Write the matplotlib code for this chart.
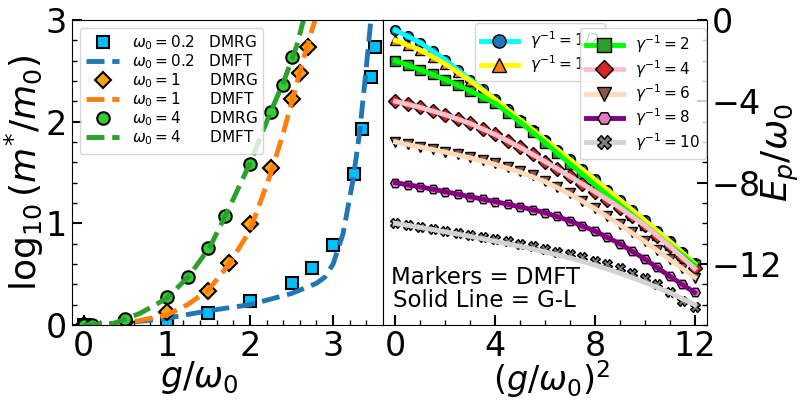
import numpy as np
import matplotlib.pyplot as plt
from matplotlib.lines import Line2D

# ---- left panel data: log10(m*/m0) vs g/w0 ----
# DMRG markers
w02_dmrg_x = [0, 0.5, 1.0, 1.5, 2.0, 2.5, 2.75, 3.0, 3.25, 3.35, 3.45, 3.5]
w02_dmrg_y = [0, 0.01, 0.05, 0.115, 0.236, 0.41, 0.557, 0.787, 1.485, 1.925, 2.44, 2.73]
w1_dmrg_x = [0, 0.5, 1.0, 1.5, 1.75, 2.0, 2.25, 2.5, 2.6, 2.7]
w1_dmrg_y = [0, 0.03, 0.125, 0.334, 0.607, 0.993, 1.548, 2.226, 2.482, 2.738]
w4_dmrg_x = [0, 0.1, 0.5, 1.0, 1.25, 1.5, 1.7, 2.0, 2.25, 2.4, 2.5]
w4_dmrg_y = [0, 0, 0.056, 0.279, 0.475, 0.754, 1.072, 1.584, 2.098, 2.36, 2.64]

# DMFT curves
w02_dmft_x = [0, 0.5, 1.0, 1.5, 2.0, 2.5, 2.8, 2.9, 3.0, 3.12, 3.24, 3.32, 3.4, 3.46]
w02_dmft_y = [0, 0.02, 0.066, 0.14, 0.2, 0.31, 0.41, 0.47, 0.6, 0.9, 1.43, 1.9, 2.54, 3.05]
w1_dmft_x = [0, 0.5, 1.0, 1.25, 1.5, 1.75, 2.0, 2.25, 2.4, 2.52, 2.64, 2.8]
w1_dmft_y = [0, 0.016, 0.098, 0.2, 0.344, 0.6, 0.93, 1.49, 1.885, 2.246, 2.607, 3.05]
w4_dmft_x = [0, 0.36, 0.68, 1.0, 1.26, 1.52, 1.72, 2.0, 2.24, 2.4, 2.56, 2.66]
w4_dmft_y = [0, 0.016, 0.115, 0.262, 0.475, 0.77, 1.1, 1.59, 2.08, 2.38, 2.74, 3.05]

# ---- right panel data: Ep/w0 vs (g/w0)^2 ----
gsq_dmft = [0, 0.5, 1, 1.5, 2, 2.5, 3, 3.5, 4, 4.5, 5, 5.5, 6, 6.5, 7, 7.5, 8,
            8.5, 9, 9.5, 10, 10.5, 11, 11.5, 12]
gsq_gl = [0, 1, 2, 3, 4, 5, 6, 7, 8, 9, 10, 11, 12]

inv_gamma = ['1/2', '1', '2', '4', '6', '8', '10']

dmft = [
    [-0.5, -0.78, -1.12, -1.52, -1.96, -2.44, -2.93, -3.41, -3.9, -4.4, -4.9, -5.39, -5.88,
     -6.37, -6.86, -7.35, -7.84, -8.34, -8.84, -9.34, -9.85, -10.36, -10.88, -11.42, -11.97],
    [-1.0, -1.21, -1.48, -1.8, -2.16, -2.56, -2.99, -3.43, -3.91, -4.41, -4.91, -5.4, -5.89,
     -6.38, -6.87, -7.36, -7.85, -8.35, -8.85, -9.35, -9.86, -10.37, -10.89, -11.43, -11.98],
    [-2.0, -2.22, -2.45, -2.68, -2.93, -3.2, -3.48, -3.8, -4.1, -4.55, -5.02, -5.52, -6.03,
     -6.55, -7.07, -7.58, -8.1, -8.6, -9.09, -9.59, -10.08, -10.57, -11.07, -11.56, -12.05],
    [-4.0, -4.15, -4.3, -4.47, -4.66, -4.86, -5.09, -5.35, -5.63, -5.93, -6.26, -6.6, -6.96,
     -7.32, -7.69, -8.06, -8.44, -8.83, -9.23, -9.66, -10.1, -10.6, -11.12, -11.66, -12.22],
    [-6.0, -6.11, -6.23, -6.35, -6.47, -6.6, -6.73, -6.88, -7.04, -7.22, -7.42, -7.64, -7.9,
     -8.2, -8.53, -8.88, -9.25, -9.64, -10.04, -10.45, -10.87, -11.3, -11.75, -12.2, -12.7],
    [-8.0, -8.1, -8.21, -8.32, -8.44, -8.56, -8.69, -8.81, -8.93, -9.06, -9.19, -9.32, -9.47,
     -9.66, -9.88, -10.12, -10.38, -10.68, -11.0, -11.35, -11.75, -12.17, -12.6, -13.0, -13.4],
    [-10.0, -10.09, -10.18, -10.27, -10.37, -10.47, -10.57, -10.67, -10.78, -10.89, -11.0,
     -11.12, -11.25, -11.39, -11.53, -11.68, -11.84, -12.02, -12.22, -12.44, -12.7, -13.0,
     -13.4, -13.8, -14.1],
]

gl = [
    [-0.5, -1.12, -1.96, -2.93, -3.9, -4.9, -5.88, -6.86, -7.84, -8.84, -9.85, -10.88, -11.97],
    [-1.0, -1.48, -2.16, -2.99, -3.91, -4.91, -5.89, -6.87, -7.85, -8.85, -9.86, -10.89, -11.98],
    [-2.0, -2.45, -2.93, -3.48, -4.1, -5.02, -6.03, -7.07, -8.1, -9.09, -10.08, -11.07, -12.05],
    [-4.0, -4.3, -4.66, -5.09, -5.63, -6.26, -6.96, -7.69, -8.44, -9.23, -10.1, -11.12, -12.22],
    [-6.0, -6.25, -6.5, -6.78, -7.1, -7.48, -7.95, -8.56, -9.28, -10.07, -10.9, -11.78, -12.65],
    [-8.0, -8.21, -8.44, -8.69, -8.93, -9.19, -9.47, -9.88, -10.38, -11.0, -11.75, -12.6, -13.4],
    [-10.0, -10.2, -10.42, -10.64, -10.88, -11.13, -11.4, -11.7, -12.05, -12.45, -12.9, -13.4, -14.0],
]

marker_styles = ['o', '^', 's', 'D', 'v', 'H', 'X']
marker_colors = ['tab:blue', 'tab:orange', 'tab:green', 'tab:red', 'tab:brown', 'tab:pink', 'tab:gray']
line_colors = ['cyan', 'yellow', 'lime', 'pink', 'peachpuff', 'purple', 'lightgray']

fig = plt.figure(figsize=(8.06, 4), dpi=100)
ax1 = fig.add_axes([0.0893, 0.1875, 0.3859, 0.7625])
ax2 = fig.add_axes([0.4752, 0.1875, 0.402, 0.7625])

# left panel
ax1.plot(w02_dmrg_x, w02_dmrg_y, 's', color='deepskyblue', mec='k', mew=1.5, ms=9,
         label=r'$\omega_0=0.2$   DMRG')
ax1.plot(w02_dmft_x, w02_dmft_y, '--', color='tab:blue', lw=3.5,
         label=r'$\omega_0=0.2$   DMFT')
ax1.plot(w1_dmrg_x, w1_dmrg_y, 'D', color='orange', mec='k', mew=1.5, ms=8,
         label=r'$\omega_0=1$      DMRG')
ax1.plot(w1_dmft_x, w1_dmft_y, '--', color='tab:orange', lw=3.5,
         label=r'$\omega_0=1$      DMFT')
ax1.plot(w4_dmrg_x, w4_dmrg_y, 'o', color='limegreen', mec='k', mew=1.5, ms=9,
         label=r'$\omega_0=4$      DMRG')
ax1.plot(w4_dmft_x, w4_dmft_y, '--', color='tab:green', lw=3.5,
         label=r'$\omega_0=4$      DMFT')
ax1.legend(loc='upper left', fontsize=11, handlelength=2.2, labelspacing=0.02)
ax1.set_xlim(-0.14, 3.6)
ax1.set_ylim(0, 3)
ax1.set_xticks([0, 1, 2, 3])
ax1.set_yticks([0, 1, 2, 3])
ax1.set_xticks(np.arange(0, 3.6, 0.2), minor=True)
ax1.set_yticks(np.arange(0, 3.01, 0.2), minor=True)
ax1.set_xlabel(r'$g/\omega_0$', fontsize=25)
ax1.set_ylabel(r'$\log_{10}(m^{*}/m_0)$', fontsize=26)
ax1.xaxis.set_label_coords(0.41, -0.113)
ax1.yaxis.set_label_coords(-0.085, 0.5)

# right panel
for i in range(len(inv_gamma)):
    ax2.plot(gsq_dmft, dmft[i], ls='none', marker=marker_styles[i], mfc=marker_colors[i],
             mec='k', mew=1, ms=7, zorder=2)
for i in range(len(inv_gamma)):
    ax2.plot(gsq_gl, gl[i], '-', color=line_colors[i], lw=3.5, zorder=3)

handles = []
for i in range(len(inv_gamma)):
    handles.append(Line2D([], [], color=line_colors[i], lw=3.5, marker=marker_styles[i],
                          mfc=marker_colors[i], mec='k', mew=1, ms=9.5,
                          label=r'$\gamma^{-1}=$' + inv_gamma[i]))
leg1 = ax2.legend(handles=handles[:2], loc='upper left', bbox_to_anchor=(0.284, 0.99),
                  borderaxespad=0, fontsize=11, handlelength=2.4, labelspacing=0.17)
ax2.add_artist(leg1)
ax2.legend(handles=handles[2:], loc='upper left', bbox_to_anchor=(0.608, 0.975),
           borderaxespad=0, fontsize=11, handlelength=2.4, labelspacing=0.17)

ax2.text(0.025, 0.134, 'Markers = DMFT', transform=ax2.transAxes, fontsize=16.5, va='baseline')
ax2.text(0.03, 0.058, 'Solid Line = G-L', transform=ax2.transAxes, fontsize=16.5, va='baseline')

ax2.set_xlim(-0.5, 12.5)
ax2.set_ylim(-15, 0)
ax2.set_xticks([0, 4, 8, 12])
ax2.set_xticks(np.arange(0, 13, 1), minor=True)
ax2.set_yticks([0, -4, -8, -12])
ax2.set_yticks(np.arange(-15, 0.5, 1), minor=True)
ax2.yaxis.tick_right()
ax2.yaxis.set_label_position('right')
ax2.set_xlabel(r'$(g/\omega_0)^2$', fontsize=24)
ax2.set_ylabel(r'$E_p/\omega_0$', fontsize=26)
ax2.xaxis.set_label_coords(0.52, -0.11)
ax2.yaxis.set_label_coords(1.163, 0.565)

for ax in (ax1, ax2):
    ax.tick_params(which='both', direction='in', labelsize=24)
    ax.tick_params(which='major', length=7, width=1.5)
    ax.tick_params(which='minor', length=3.5, width=1)

fig.savefig('out.png', dpi=100)
